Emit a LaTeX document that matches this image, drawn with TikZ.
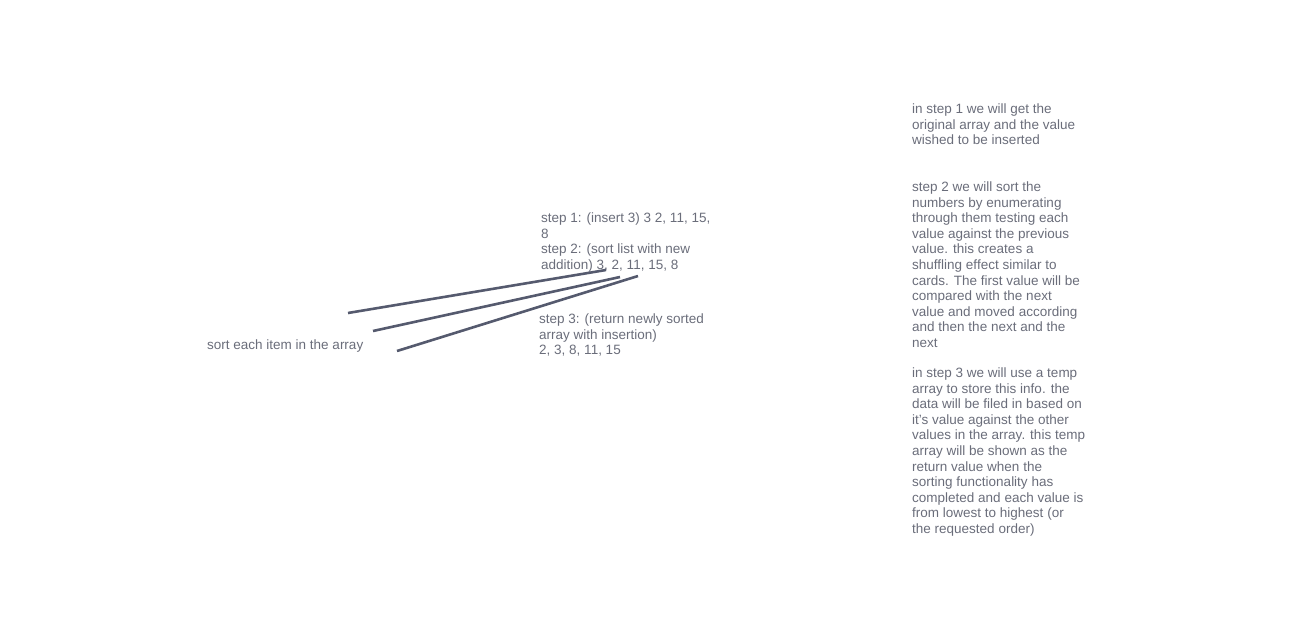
\documentclass[tikz,border=0pt]{standalone}
\usepackage{fontspec}
\setmainfont{Liberation Sans}
\usetikzlibrary{positioning}
\definecolor{notegray}{HTML}{6A6D7A}
\definecolor{linegray}{HTML}{555A6E}

\begin{document}
\begin{tikzpicture}[
  x=1pt, y=-1pt,
  note/.style={anchor=north west, inner sep=0pt, align=left,
               text=notegray, font=\fontsize{13.5}{15.6}\selectfont},
  link/.style={draw=linegray, line width=2.6pt},
]
  \useasboundingbox (0,0) rectangle (1292,640);

  %% ── Left label ──
  \node[note] (sortall) at (207, 339.5) {sort each item in the array};

  %% ── Steps ──
  \node[note] (stepone) at (541, 212.5)
    {step 1: (insert 3) 3 2, 11, 15,\\8\\step 2: (sort list with new\\addition) 3, 2, 11, 15, 8};
  \node[note] (stepthree) at (539, 313.5)
    {step 3: (return newly sorted\\array with insertion)\\2, 3, 8, 11, 15};

  %% ── Explanations ──
  \node[note] (expone) at (912, 103.5)
    {in step 1 we will get the\\original array and the value\\wished to be inserted};
  \node[note] (exptwo) at (912, 181.5)
    {step 2 we will sort the\\numbers by enumerating\\through them testing each\\value against the previous\\value. this creates a\\shuffling effect similar to\\cards. The first value will be\\compared with the next\\value and moved according\\and then the next and the\\next};
  \node[note] (expthree) at (912, 367.5)
    {in step 3 we will use a temp\\array to store this info. the\\data will be filed in based on\\it's value against the other\\values in the array. this temp\\array will be shown as the\\return value when the\\sorting functionality has\\completed and each value is\\from lowest to highest (or\\the requested order)};

  %% ── Strokes ──
  \coordinate (ta) at (348, 313);
  \coordinate (tb) at (373, 331);
  \coordinate (tc) at (397, 351);
  \coordinate (ha) at (606, 270);
  \coordinate (hb) at (620, 277);
  \coordinate (hc) at (638, 276);
  \draw[link] (ta) -- (ha);
  \draw[link] (tb) -- (hb);
  \draw[link] (tc) -- (hc);
\end{tikzpicture}
\end{document}
